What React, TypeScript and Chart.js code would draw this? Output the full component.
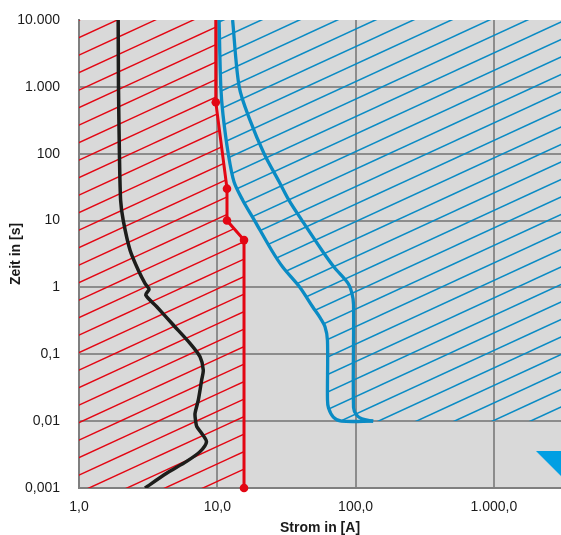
import { useEffect, useRef } from 'react';
import { Chart, registerables } from 'chart.js';

Chart.register(...registerables);

// ---- axis ticks ----
const xTickValues = [1, 10, 100, 1000];
const xTickLabels = ['1,0', '10,0', '100,0', '1.000,0'];
const yTickValues = [0.001, 0.01, 0.1, 1, 10, 100, 1000, 10000];
const yTickLabels = ['0,001', '0,01', '0,1', '1', '10', '100', '1.000', '10.000'];
const X_MIN = 1;
const X_MAX = 3055;
const Y_MIN = 0.001;
const Y_MAX = 10000;

// ---- black curve ----
const blackX = [1.92, 1.93, 1.96, 2.0, 2.09, 2.34, 2.68, 3.0, 3.21, 3.04, 3.65, 4.81, 6.35, 7.5, 7.92, 7.7, 7.3, 6.9, 6.95, 7.1, 7.7, 8.35, 7.5, 6.0, 4.3, 3.0];
const blackY = [10000, 1000, 100, 20, 10, 3.6, 1.82, 1.15, 0.94, 0.77, 0.515, 0.274, 0.146, 0.092, 0.058, 0.041, 0.021, 0.013, 0.0105, 0.0083, 0.0066, 0.0049, 0.0035, 0.0025, 0.00166, 0.001];

// ---- red curve ----
const redX = [9.75, 9.75, 11.75, 11.75, 15.6, 15.6];
const redY = [10000, 590, 30, 10, 5.1, 0.001];
const redDots = [0, 1, 1, 1, 1, 1];

// ---- blue curves ----
const blueLeftX = [10.3, 10.6, 11.0, 12.0, 13.2, 15.3, 18.6, 24.7, 29.8, 39.6, 49, 55, 60, 62.6, 62.6, 63.7, 69, 79, 134];
const blueLeftY = [10000, 1000, 380, 100, 38, 20, 10, 3.6, 2.0, 1.0, 0.51, 0.36, 0.26, 0.16, 0.021, 0.0157, 0.0115, 0.01, 0.01];
const blueRightX = [12.9, 14.4, 17.2, 21.8, 28, 33, 41, 57, 70, 88, 94, 96.6, 96.6, 101.5, 111, 134];
const blueRightY = [10000, 1000, 320, 100, 38, 20, 10, 3.6, 2.0, 1.16, 0.82, 0.55, 0.016, 0.0124, 0.0108, 0.01];

// ---- marker (triangle, bottom right) ----
const markerX = [3320];
const markerY = [0.00213];

const pts = (xs: number[], ys: number[]) => xs.map((x, i) => ({ x, y: ys[i] }));

function makeHatch(main: CanvasRenderingContext2D, color: string, phase: number) {
  const W = 76;
  const H = 35;
  const s = H / W;
  const c = document.createElement('canvas');
  c.width = W;
  c.height = H;
  const g = c.getContext('2d')!;
  g.strokeStyle = color;
  g.lineWidth = 1.5;
  for (let k = -3; k <= 7; k++) {
    const y0 = phase + 17.5 * k;
    g.beginPath();
    g.moveTo(-10, y0 + 10 * s);
    g.lineTo(W + 10, y0 - (W + 10) * s);
    g.stroke();
  }
  return main.createPattern(c, 'repeat');
}

function makeTriangle(color: string) {
  const c = document.createElement('canvas');
  c.width = 60;
  c.height = 30;
  const g = c.getContext('2d')!;
  g.fillStyle = color;
  g.beginPath();
  g.moveTo(0, 0);
  g.lineTo(60, 0);
  g.lineTo(30, 30);
  g.closePath();
  g.fill();
  return c;
}

const plotBg = {
  id: 'plotBg',
  beforeDraw(chart: any) {
    const { ctx, chartArea: a } = chart;
    ctx.save();
    ctx.fillStyle = '#d9d9d9';
    ctx.fillRect(a.left, a.top, a.right - a.left, a.bottom - a.top);
    ctx.restore();
  },
};

export default function App() {
  const ref = useRef<HTMLCanvasElement>(null);
  useEffect(() => {
    const canvas = ref.current!;
    const ctx = canvas.getContext('2d')!;
    Chart.defaults.font.family = '"Liberation Sans", Arial, Helvetica, sans-serif';
    const redPattern = makeHatch(ctx, '#e30613', 4.0);
    const bluePattern = makeHatch(ctx, '#0a8bc4', 0.4);
    const tri = makeTriangle('#009fe3');

    const chart = new Chart(canvas, {
      type: 'line',
      data: {
        datasets: [
          {
            label: 'Marker',
            data: pts(markerX, markerY),
            showLine: false,
            pointStyle: tri as any,
            pointRadius: 15,
            pointHoverRadius: 15,
            borderWidth: 0,
            fill: false,
          },
          {
            label: 'schwarz',
            data: pts(blackX, blackY),
            borderColor: '#1d1d1b',
            borderWidth: 3.5,
            pointRadius: 0,
            tension: 0.25,
            fill: false,
          },
          {
            label: 'rot',
            data: pts(redX, redY),
            borderColor: '#e30613',
            backgroundColor: redPattern as any,
            fill: { value: X_MIN } as any,
            borderWidth: 3,
            pointRadius: redDots.map((d) => d * 4.3),
            pointBackgroundColor: '#e30613',
            pointBorderWidth: 0,
            tension: 0,
            clip: { left: 0, top: 0, right: 0, bottom: 6 } as any,
          },
          {
            label: 'blau links',
            data: pts(blueLeftX, blueLeftY),
            borderColor: '#0a8bc4',
            backgroundColor: bluePattern as any,
            fill: { value: X_MAX } as any,
            borderWidth: 3.3,
            pointRadius: 0,
            tension: 0.3,
          },
          {
            label: 'blau rechts',
            data: pts(blueRightX, blueRightY),
            borderColor: '#0a8bc4',
            borderWidth: 3.3,
            pointRadius: 0,
            tension: 0.3,
            fill: false,
          },
        ],
      },
      options: {
        indexAxis: 'y',
        animation: false,
        responsive: false,
        devicePixelRatio: 1,
        events: [],
        layout: { autoPadding: false, padding: { top: 20, left: 0, right: 0, bottom: 0 } },
        plugins: {
          legend: { display: false },
          tooltip: { enabled: false },
          filler: { drawTime: 'beforeDatasetsDraw' } as any,
        },
        scales: {
          x: {
            type: 'logarithmic',
            position: 'bottom',
            min: X_MIN,
            max: X_MAX,
            afterBuildTicks: (s: any) => {
              s.ticks = xTickValues.map((v) => ({ value: v }));
            },
            afterFit: (s: any) => {
              s.height = 47;
              s.paddingLeft = 0;
              s.paddingRight = 0;
              s.paddingTop = 0;
              s.paddingBottom = 0;
            },
            ticks: {
              autoSkip: false,
              maxRotation: 0,
              padding: 11,
              color: '#1a1a1a',
              font: { size: 14 },
              callback: (_v: any, i: number) => xTickLabels[i],
            },
            grid: { color: '#8c8c8c', lineWidth: 2, drawTicks: false },
            border: { color: '#7f7f7f', width: 2 },
            title: {
              display: true,
              text: 'Strom in [A]',
              color: '#1a1a1a',
              font: { size: 14, weight: 'bold' },
              padding: { top: 0, bottom: -2 },
            },
          },
          y: {
            type: 'logarithmic',
            position: 'left',
            min: Y_MIN,
            max: Y_MAX,
            afterBuildTicks: (s: any) => {
              s.ticks = yTickValues.map((v) => ({ value: v }));
            },
            afterFit: (s: any) => {
              s.width = 79;
              s.paddingLeft = 0;
              s.paddingRight = 0;
              s.paddingTop = 0;
              s.paddingBottom = 0;
            },
            ticks: {
              autoSkip: false,
              padding: 19,
              color: '#1a1a1a',
              font: { size: 14 },
              callback: (_v: any, i: number) => yTickLabels[i],
            },
            grid: {
              color: (c: any) => (c.tick && c.tick.value === Y_MAX ? 'rgba(0,0,0,0)' : '#8c8c8c'),
              lineWidth: 2,
              drawTicks: false,
            },
            border: { color: '#7f7f7f', width: 2 },
            title: {
              display: true,
              text: 'Zeit in [s]',
              color: '#1a1a1a',
              font: { size: 14, weight: 'bold' },
              padding: { top: 8, bottom: 0 },
            },
          },
        },
      } as any,
      plugins: [plotBg],
    });
    return () => chart.destroy();
  }, []);

  return (
    <div style={{ position: 'fixed', left: 0, top: 0, width: 561, height: 535 }}>
      <canvas ref={ref} width={561} height={535} style={{ display: 'block', width: 561, height: 535 }} />
    </div>
  );
}
